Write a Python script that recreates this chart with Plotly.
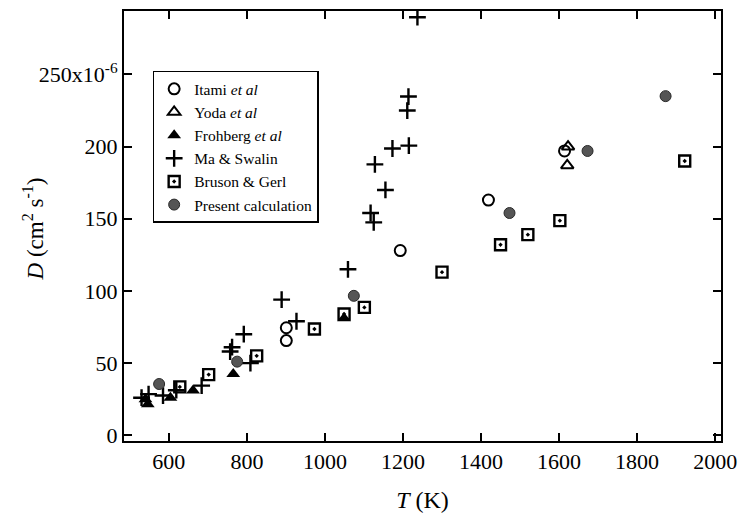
import plotly.graph_objects as go

# Itami et al (open circles)
itami_T = [901, 901, 1193, 1419, 1614]
itami_D = [74.5, 65.6, 128, 163, 197]

# Yoda et al (open triangles)
yoda_T = [1623, 1621]
yoda_D = [200, 187]

# Frohberg et al (filled triangles)
froh_T = [540, 546, 604, 662, 765, 1049]
froh_D = [25, 21.5, 26, 31, 42.5, 81]

# Ma & Swalin (plus)
ma_T = [530, 548, 585, 619, 684, 757, 762, 792, 809, 889, 927, 1059,
        1117, 1125, 1128, 1155, 1173, 1211, 1214, 1215, 1237]
ma_D = [26, 28.5, 27.5, 31.2, 34.4, 58, 61, 70, 50, 94, 79, 115,
        154, 147.5, 187.7, 170, 198.7, 225, 234.7, 200.7, 289.7]

# Bruson & Gerl (square with dot)
bruson_T = [628, 702, 825, 973, 1049, 1101, 1300, 1450, 1520, 1602, 1922]
bruson_D = [33.5, 42, 55, 73.6, 84, 88.6, 113, 132, 139, 148.7, 190]

# Present calculation (gray filled circles)
calc_T = [575, 775, 1074, 1473, 1673, 1873]
calc_D = [35.5, 51, 96.6, 154, 197, 235]

y_ticks = [0, 50, 100, 150, 200, 250]
y_ticktext = ["0", "50", "100", "150", "200", "250x10<sup>-6</sup>"]
x_ticks = [600, 800, 1000, 1200, 1400, 1600, 1800, 2000]

FONT = "Liberation Serif"

fig = go.Figure()
fig.add_trace(go.Scatter(x=itami_T, y=itami_D, mode="markers", name="Itami <i>et al</i>",
                         marker=dict(symbol="circle-open", size=11, color="black", line=dict(width=2))))
fig.add_trace(go.Scatter(x=yoda_T, y=yoda_D, mode="markers", name="Yoda <i>et al</i>",
                         marker=dict(symbol="triangle-up-open", size=11, color="black", line=dict(width=2))))
fig.add_trace(go.Scatter(x=froh_T, y=froh_D, mode="markers", name="Frohberg <i>et al</i>",
                         marker=dict(symbol="triangle-up", size=12, color="black", line=dict(width=0))))
fig.add_trace(go.Scatter(x=ma_T, y=ma_D, mode="markers", name="Ma &amp; Swalin",
                         marker=dict(symbol="cross-thin", size=12, color="black", line=dict(width=2.4, color="black"))))
fig.add_trace(go.Scatter(x=bruson_T, y=bruson_D, mode="markers", name="Bruson &amp; Gerl",
                         marker=dict(symbol="square-open-dot", size=11, color="black", line=dict(width=2.4))))
fig.add_trace(go.Scatter(x=calc_T, y=calc_D, mode="markers", name="Present calculation",
                         marker=dict(symbol="circle", size=11, color="#555555", line=dict(width=1, color="#2a2a2a"))))

fig.update_layout(
    width=746, height=518,
    margin=dict(l=124, r=19, t=9, b=76),
    paper_bgcolor="white", plot_bgcolor="white",
    font=dict(family=FONT, size=22, color="black"),
    showlegend=True,
    legend=dict(x=0.048, y=0.861, xanchor="left", yanchor="top",
                bordercolor="black", borderwidth=1.5, bgcolor="white",
                font=dict(family=FONT, size=15.5, color="black"),
                tracegroupgap=0, itemwidth=30),
    xaxis=dict(range=[485, 2015], tickvals=x_ticks, ticks="inside", ticklen=8,
               tickwidth=1.5, tickcolor="black", showline=True, linecolor="black",
               linewidth=2, mirror="allticks", showgrid=False, zeroline=False,
               title=dict(text="<i>T</i> (K)", font=dict(family=FONT, size=24), standoff=18),
               tickfont=dict(family=FONT, size=22)),
    yaxis=dict(range=[-4, 294], tickvals=y_ticks, ticktext=y_ticktext, ticks="inside",
               ticklen=8, tickwidth=1.5, tickcolor="black", showline=True,
               linecolor="black", linewidth=2, mirror="allticks", showgrid=False,
               zeroline=False, tickfont=dict(family=FONT, size=22)),
    annotations=[dict(text="<i>D</i> (cm<sup>2</sup> s<sup>-1</sup>)", textangle=-90,
                      xref="paper", yref="paper", x=-0.151, y=0.494,
                      xanchor="center", yanchor="middle", showarrow=False,
                      font=dict(family=FONT, size=23, color="black"))],
)

fig.write_html("out.html")
